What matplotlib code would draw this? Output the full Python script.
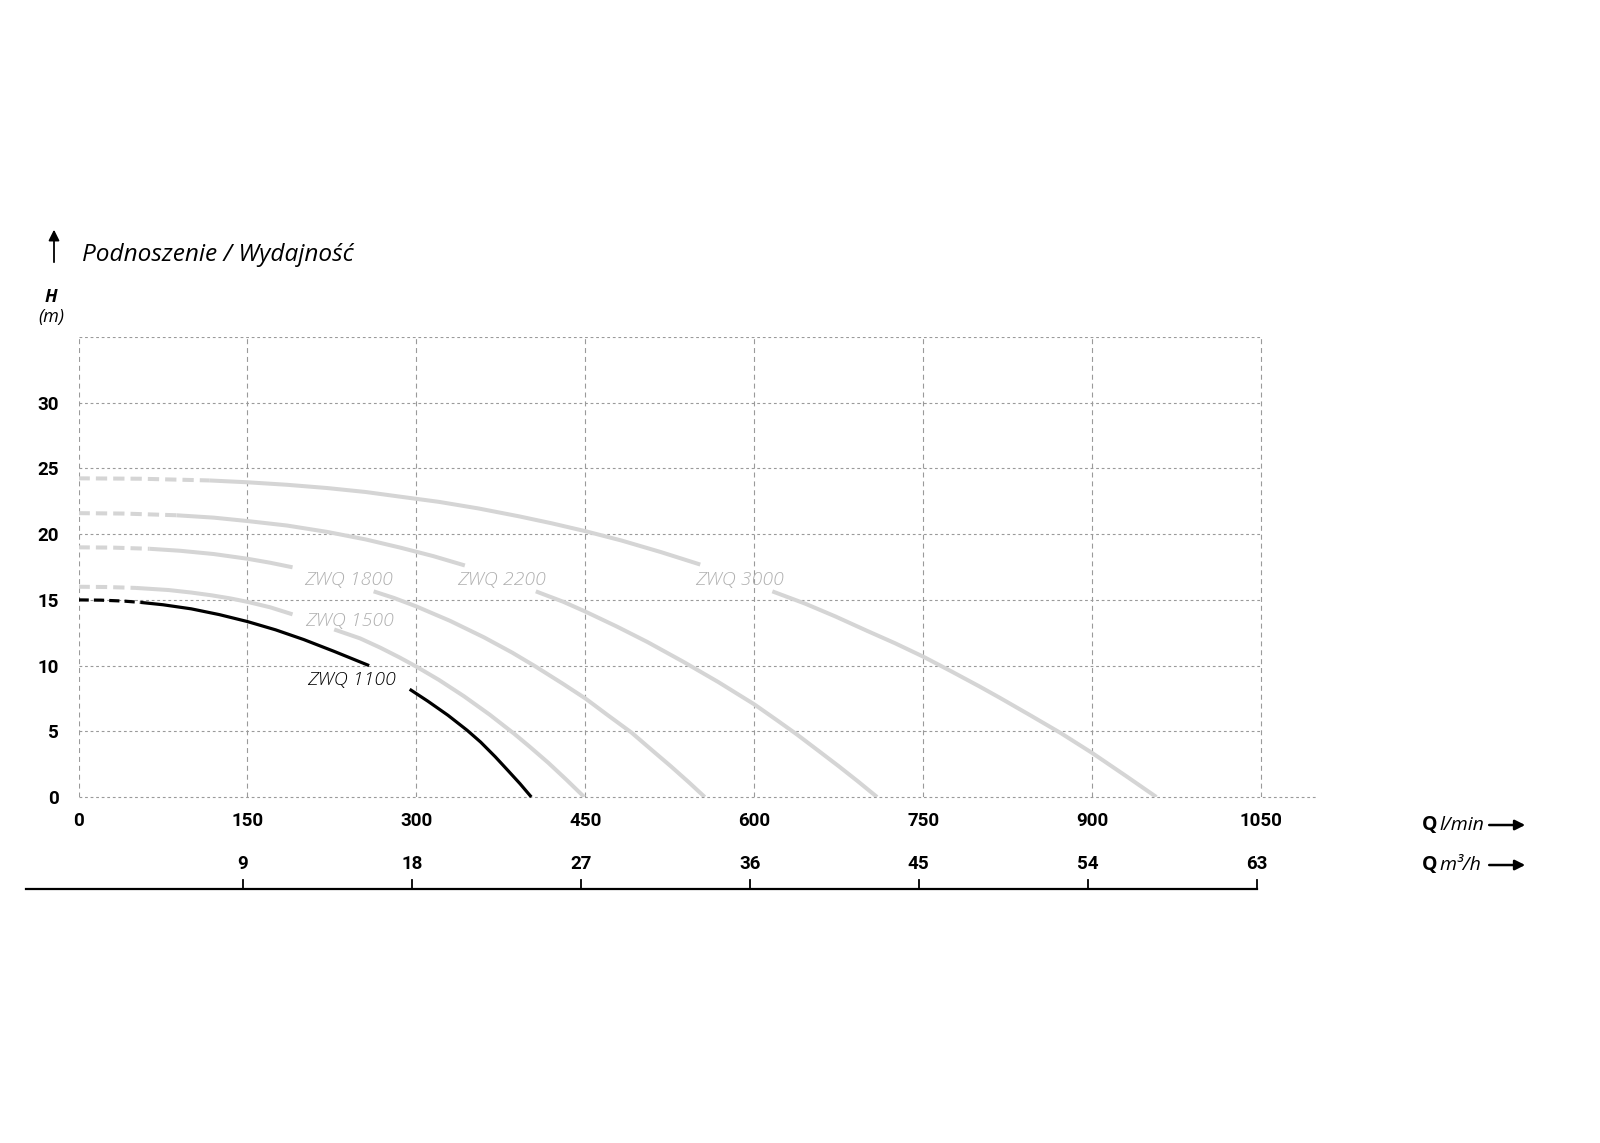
import numpy as np
import matplotlib
matplotlib.use('Agg')
import matplotlib.pyplot as plt

nan = np.nan

# axis ticks
q_ticks = [0, 150, 300, 450, 600, 750, 900, 1050]
h_ticks = [0, 5, 10, 15, 20, 25, 30]
h_grid = [5, 10, 15, 20, 25, 30, 35]
m3h_ticks = [9, 18, 27, 36, 45, 54, 63]

# pump curves, Q in l/min, H in m (dashed start + solid part, nan = gap for label)
q1100_dash = [0, 20, 40, 55]
h1100_dash = [15.0, 14.98, 14.91, 14.81]
q1100 = [55, 75, 100, 125, 150, 175, 200, 227, 258, nan,
         294, 310, 328, 345, 357, 370, 381, 392, 402]
h1100 = [14.81, 14.63, 14.32, 13.88, 13.35, 12.72, 11.98, 11.08, 10.0, nan,
         8.2, 7.3, 6.22, 5.08, 4.18, 3.06, 2.04, 1.01, 0.0]

q1500_dash = [0, 25, 51]
h1500_dash = [16.0, 15.98, 15.91]
q1500 = [51, 80, 100, 118, 135, 150, 170, 190, nan,
         227, 250, 268, 285, 300, 320, 342, 365, 387, 400, 417, 433, 449]
h1500 = [15.91, 15.75, 15.56, 15.35, 15.11, 14.85, 14.44, 13.9, nan,
         12.75, 12.07, 11.36, 10.62, 9.92, 8.91, 7.68, 6.27, 4.8, 3.87, 2.61, 1.33, 0.0]

q1800_dash = [0, 30, 63]
h1800_dash = [19.0, 18.98, 18.89]
q1800 = [63, 90, 120, 150, 170, 190, nan,
         262, 280, 300, 330, 360, 385, 405, 430, 450, 470, 491, 510, 526, 542, 556]
h1800 = [18.89, 18.74, 18.49, 18.13, 17.83, 17.48, nan,
         15.65, 15.15, 14.5, 13.4, 12.15, 10.99, 9.97, 8.62, 7.5, 6.22, 4.9, 3.5, 2.33, 1.11, 0.0]

q2200_dash = [0, 40, 87]
h2200_dash = [21.6, 21.57, 21.44]
q2200 = [87, 120, 150, 185, 221, 255, 286, 315, 343, nan,
         406, 430, 450, 478, 505, 537, 568, 600, 620, 638, 658, 675, 692, 709]
h2200 = [21.44, 21.26, 21.0, 20.66, 20.17, 19.6, 18.97, 18.33, 17.62, nan,
         15.65, 14.87, 14.11, 12.97, 11.8, 10.29, 8.75, 7.05, 5.85, 4.75, 3.45, 2.34, 1.19, 0.0]

q3000_dash = [0, 55, 116]
h3000_dash = [24.25, 24.22, 24.09]
q3000 = [116, 150, 185, 221, 255, 286, 320, 355, 391, 420, 450, 482, 517, 552, nan,
         616, 645, 672, 700, 725, 750, 775, 800, 818, 845, 872, 900, 930, 957]
h3000 = [24.09, 23.95, 23.76, 23.51, 23.21, 22.85, 22.46, 21.96, 21.36, 20.83, 20.23, 19.52, 18.64, 17.69, nan,
         15.65, 14.72, 13.74, 12.65, 11.7, 10.68, 9.56, 8.41, 7.55, 6.22, 4.87, 3.35, 1.6, 0.0]

labels = ['ZWQ 1100', 'ZWQ 1500', 'ZWQ 1800', 'ZWQ 2200', 'ZWQ 3000']
label_q = [242, 241, 240, 376, 587]
label_h = [8.9, 13.4, 16.5, 16.5, 16.5]

gray = '#d5d5d5'
gray_txt = '#b0b0b0'
grid_c = '#9a9a9a'
italic_font = ['Open Sans', 'DejaVu Sans']
bold_font = ['Roboto', 'DejaVu Sans']

fig = plt.figure(figsize=(16, 11.43), dpi=100)
ax = fig.add_axes([0.0491, 0.3027, 0.7743, 0.4024])
ax.set_xlim(0, 1100)
ax.set_ylim(0, 35)
for s in ax.spines.values():
    s.set_visible(False)

# grid
for h in h_grid:
    ax.plot([0, 1050], [h, h], color=grid_c, lw=0.8, dashes=(2.5, 2.5), zorder=1)
ax.plot([0, 1100], [0, 0], color=grid_c, lw=0.8, dashes=(2.5, 2.5), zorder=1, clip_on=False)
for q in q_ticks:
    ax.plot([q, q], [0, 35], color=grid_c, lw=0.8, dashes=(4.5, 3.5), zorder=1)

# curves
grays = [(q1500_dash, h1500_dash, q1500, h1500),
         (q1800_dash, h1800_dash, q1800, h1800),
         (q2200_dash, h2200_dash, q2200, h2200),
         (q3000_dash, h3000_dash, q3000, h3000)]
for qd, hd, qs, hs in grays:
    ax.plot(qd, hd, color=gray, lw=2.9, dashes=(2.8, 1.5), solid_capstyle='butt', zorder=2)
    ax.plot(qs, hs, color=gray, lw=2.9, solid_capstyle='butt', zorder=2)
ax.plot(q1100_dash, h1100_dash, color='black', lw=2.3, dashes=(3.2, 1.6), zorder=3)
ax.plot(q1100, h1100, color='black', lw=2.3, solid_capstyle='butt', zorder=3, clip_on=False)

for i, lab in enumerate(labels):
    ax.text(label_q[i], label_h[i], lab, ha='center', va='center', fontsize=14,
            style='italic', family=italic_font, fontweight='light',
            color='black' if i == 0 else gray_txt, zorder=4)

# ticks
ax.set_xticks(q_ticks)
ax.set_xticklabels([str(v) for v in q_ticks])
ax.set_yticks(h_ticks)
ax.set_yticklabels([str(v) for v in h_ticks])
ax.tick_params(length=0)
ax.tick_params(axis='x', pad=11)
ax.tick_params(axis='y', pad=14)
for t in ax.get_xticklabels() + ax.get_yticklabels():
    t.set_family(bold_font)
    t.set_fontweight('bold')
    t.set_fontsize(13.5)

# second scale m3/h
m3h_pos = [v * 1000 / 60 - 4 for v in m3h_ticks]
ax.plot([-47, m3h_pos[-1]], [-7, -7], color='black', lw=1.6, clip_on=False)
for p, v in zip(m3h_pos, m3h_ticks):
    ax.plot([p, p], [-7, -6.3], color='black', lw=1.3, clip_on=False)
    ax.text(p, -5.1, str(v), ha='center', va='center', fontsize=13.5,
            family=bold_font, fontweight='bold', clip_on=False)

# titles
fig.text(0.051, 0.7765, 'Podnoszenie / Wydajność', ha='left', va='center',
         fontsize=17.6, style='italic', family=italic_font)
ax.annotate('', xy=(0.03375, 0.8015), xytext=(0.03375, 0.7682),
            xycoords='figure fraction', textcoords='figure fraction',
            arrowprops=dict(arrowstyle='-|>', color='black', lw=1.3, mutation_scale=16))
fig.text(0.0319, 0.7402, 'H', ha='center', va='center', fontsize=13,
         style='italic', fontweight='bold', family=italic_font)
fig.text(0.0319, 0.7227, '(m)', ha='center', va='center', fontsize=13,
         style='italic', family=italic_font)

# Q unit labels
for yy, unit in [(0.2782, 'l/min'), (0.2432, 'm³/h')]:
    fig.text(0.8885, yy, 'Q', ha='left', va='center', fontsize=14,
             fontweight='bold', family=italic_font)
    fig.text(0.8995, yy, unit, ha='left', va='center', fontsize=14,
             style='italic', family=italic_font)
    ax.annotate('', xy=(0.955, yy), xytext=(0.929, yy),
                xycoords='figure fraction', textcoords='figure fraction',
                arrowprops=dict(arrowstyle='-|>', color='black', lw=1.8, mutation_scale=15))

fig.savefig('out.png', dpi=100)
